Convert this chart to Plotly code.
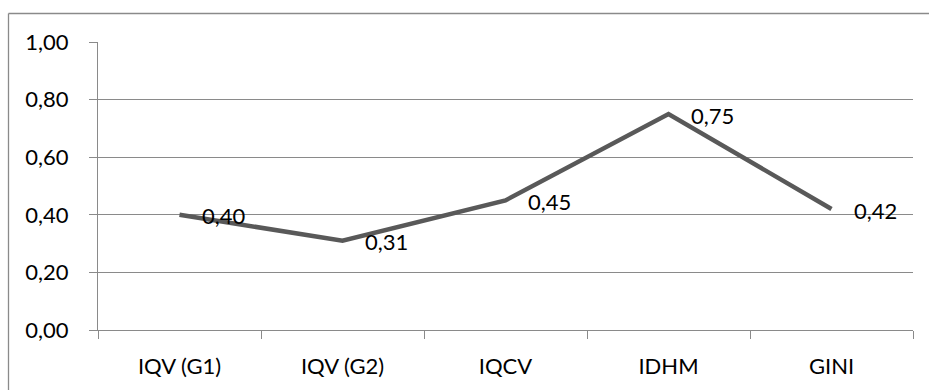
import plotly.graph_objects as go

categories = ["IQV (G1)", "IQV (G2)", "IQCV", "IDHM", "GINI"]
values = [0.40, 0.31, 0.45, 0.75, 0.42]
value_labels = ["0,40", "0,31", "0,45", "0,75", "0,42"]
y_ticks = [0.0, 0.2, 0.4, 0.6, 0.8, 1.0]
y_tick_labels = ["0,00", "0,20", "0,40", "0,60", "0,80", "1,00"]

W, H = 929, 390
L, R, T, B = 98, 16, 42, 60
pw, ph = W - L - R, H - T - B

FONT = "Lato"
grid = "#8a8a8a"

fig = go.Figure()
fig.add_trace(go.Scatter(
    x=list(range(len(categories))), y=values, mode="lines",
    line=dict(color="#595959", width=4.5), hoverinfo="skip", showlegend=False,
))

for i, (v, lab) in enumerate(zip(values, value_labels)):
    fig.add_annotation(x=i, y=v, text=lab, showarrow=False, xanchor="left",
                       yanchor="middle", xshift=20, yshift=-1,
                       font=dict(family=FONT, size=22, color="#000000"))

# outer chart border (left & top visible)
def px_to_paper_x(px):
    return (px - L) / pw

def px_to_paper_y(py):
    return (H - B - py) / ph

fig.add_shape(type="line", xref="paper", yref="paper",
              x0=px_to_paper_x(8.5), x1=px_to_paper_x(8.5),
              y0=px_to_paper_y(13.5), y1=px_to_paper_y(400),
              line=dict(color=grid, width=1.3))
fig.add_shape(type="line", xref="paper", yref="paper",
              x0=px_to_paper_x(8.5), x1=px_to_paper_x(940),
              y0=px_to_paper_y(13.5), y1=px_to_paper_y(13.5),
              line=dict(color=grid, width=1.3))

fig.update_layout(
    width=W, height=H, margin=dict(l=L, r=R, t=T, b=B),
    paper_bgcolor="white", plot_bgcolor="white",
    font=dict(family=FONT, size=22, color="#000000"),
    showlegend=False,
)
fig.update_xaxes(
    range=[-0.5, len(categories) - 0.5],
    tickmode="array", tickvals=list(range(len(categories))), ticktext=categories,
    ticks="", showgrid=False, zeroline=False,
    showline=True, linecolor=grid, linewidth=1.3,
    ticklabelstandoff=16, fixedrange=True,
)
# category boundary ticks via minor ticks
fig.update_xaxes(minor=dict(tickmode="array",
                            tickvals=[i - 0.5 for i in range(len(categories) + 1)],
                            ticks="outside", ticklen=8, tickcolor=grid, tickwidth=1.3,
                            showgrid=False))
fig.update_yaxes(
    range=[0, 1.0], tickmode="array", tickvals=y_ticks, ticktext=y_tick_labels,
    ticks="outside", ticklen=8, tickcolor=grid, tickwidth=1.3,
    showgrid=True, gridcolor=grid, gridwidth=1.3,
    zeroline=False, showline=True, linecolor=grid, linewidth=1.3,
    ticklabelstandoff=16, fixedrange=True,
)

fig.write_html("out.html")
